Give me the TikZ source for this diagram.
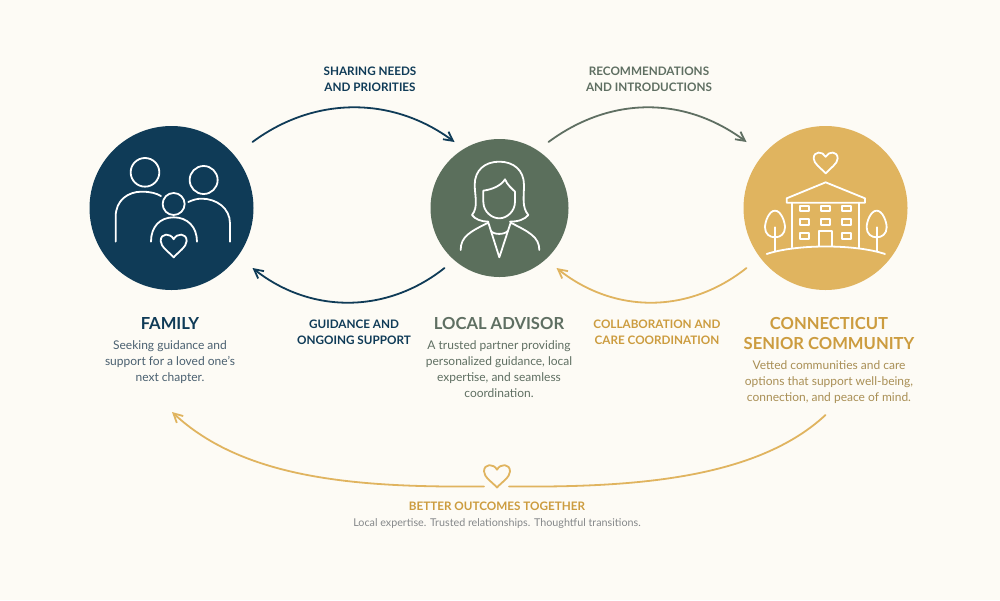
\documentclass[tikz,border=0pt]{standalone}
\usepackage{fontspec}
\setmainfont{Lato}
\usetikzlibrary{arrows.meta,positioning,calc}
\definecolor{bgcream}{HTML}{FDFBF5}
\definecolor{navyblue}{HTML}{0F3B57}
\definecolor{sagegreen}{HTML}{5B6F5C}
\definecolor{goldtone}{HTML}{E0B45F}
\definecolor{goldtext}{HTML}{CC9C3F}
\definecolor{navytext}{HTML}{4A6070}
\definecolor{greentext}{HTML}{5F6F62}
\definecolor{browntext}{HTML}{A98F55}
\definecolor{greytext}{HTML}{85888A}
\tikzset{
  circ/.style={circle, inner sep=0, outer sep=0},
  title/.style={font=\fontsize{16.6}{20}\selectfont\bfseries, align=center, inner sep=0},
  flow/.style={font=\fontsize{11.7}{15.7}\selectfont\bfseries, align=center, inner sep=0},
  desc/.style={font=\fontsize{12}{16}\selectfont, align=center, inner sep=0},
  arc/.style={-{Straight Barb[length=9pt,width=13pt,angle'=55]}, line width=1.8pt, line cap=round},
  icon/.style={draw=white, line width=1.8pt, line cap=round, line join=round},
  pics/heart/.style={
    code={\path[pic actions] (0,-0.55) .. controls (-0.25,-1.1) and (-1,-1.1) .. (-1,-0.4)
      .. controls (-1,0.1) and (-0.35,0.55) .. (0,1)
      .. controls (0.35,0.55) and (1,0.1) .. (1,-0.4)
      .. controls (1,-1.1) and (0.25,-1.1) .. (0,-0.55) -- cycle;}
  },
}
\begin{document}
\begin{tikzpicture}[x=1pt,y=-1pt]
\fill[bgcream] (0,0) rectangle (1000,600);
\useasboundingbox (0,0) rectangle (1000,600);

\node[circ, fill=navyblue, minimum size=164pt] (FAMILY) at (171.5,208) {};
\node[circ, fill=sagegreen, minimum size=138pt] (ADVISOR) at (499.5,208) {};
\node[circ, fill=goldtone, minimum size=164pt] (COMMUNITY) at (825.5,208) {};

% family
\begin{scope}[shift={(70,110)},scale=0.3333]
\draw[icon] (225,187) circle (43);
\draw[icon] (401,210) circle (42);
\draw[icon] (311,282) circle (33);
\draw[icon] (137,395) -- (137,320) .. controls (137,270) and (175,245) .. (215,245) .. controls (240,245) and (260,250) .. (273,258);
\draw[icon] (480,395) -- (480,340) .. controls (480,295) and (440,266) .. (395,266) .. controls (380,266) and (368,270) .. (355,276);
\draw[icon] (243,395) .. controls (243,350) and (270,322) .. (311,322) .. controls (352,322) and (381,350) .. (381,395);
\pic[icon, xscale=13, yscale=11.7] at (311,407) {heart};
\end{scope}

% advisor
\begin{scope}[shift={(420,120)},scale=0.3333]
\draw[icon] (205,305) .. controls (185,305) and (165,298) .. (156,285) .. controls (175,262) and (165,230) .. (164,195) .. controls (164,150) and (195,125) .. (238,125) .. controls (280,125) and (312,150) .. (312,195) .. controls (312,230) and (305,262) .. (325,285) .. controls (315,298) and (295,305) .. (270,305);
\draw[icon] (190,212) .. controls (220,208) and (245,195) .. (255,178) .. controls (262,195) and (275,205) .. (285,215) -- (285,245) .. controls (285,275) and (260,295) .. (238,295) .. controls (215,295) and (190,275) .. (190,245) -- cycle;
\draw[icon] (122,390) .. controls (122,350) and (150,335) .. (205,308) -- (238,412) -- (272,308) .. controls (325,335) and (358,350) .. (358,390);
\draw[icon] (212,332) .. controls (220,345) and (255,345) .. (264,332);
\end{scope}

% community
\begin{scope}[shift={(730,120)},scale=0.3333]
\pic[icon, xscale=12, yscale=10.7] at (287,128) {heart};
\draw[icon] (170,235) -- (287,187) -- (405,235) -- (405,248) -- (170,248) -- cycle;
\draw[icon] (187,248) -- (187,382);
\draw[icon] (387,248) -- (387,382);
\foreach \winx in {224,287,349}
  \foreach \winy in {265,306}
    \draw[icon] (\winx-14,\winy-8) rectangle (\winx+14,\winy+8);
\foreach \winx in {224,349}
  \draw[icon] (\winx-14,348-8) rectangle (\winx+14,348+8);
\draw[icon] (267,378) -- (267,332) -- (307,332) -- (307,378);
\draw[icon] (110,402) .. controls (200,372) and (375,372) .. (465,402);
\foreach \treex in {135,440} {
  \draw[icon] (\treex,272) .. controls (\treex+18,272) and (\treex+30,305) .. (\treex+30,322) .. controls (\treex+30,342) and (\treex+16,352) .. (\treex,352) .. controls (\treex-16,352) and (\treex-30,342) .. (\treex-30,322) .. controls (\treex-30,305) and (\treex-18,272) .. (\treex,272) -- cycle;
  \draw[icon] (\treex,322) -- (\treex,392);
}
\end{scope}

% arrow ends
\coordinate (FAM_TOP) at ($(FAMILY)+(81,-66)$);
\coordinate (FAM_LOW) at ($(FAMILY)+(81,60)$);
\coordinate (ADV_TOPL) at ($(ADVISOR)+(-45,-66)$);
\coordinate (ADV_TOPR) at ($(ADVISOR)+(49,-66)$);
\coordinate (ADV_LOWL) at ($(ADVISOR)+(-55,60)$);
\coordinate (ADV_LOWR) at ($(ADVISOR)+(57,60)$);
\coordinate (COM_TOP) at ($(COMMUNITY)+(-79,-66)$);
\coordinate (COM_LOW) at ($(COMMUNITY)+(-79,60)$);
\coordinate (COM_FOOT) at ($(COMMUNITY)+(0,207)$);
\coordinate (FAM_FOOT) at ($(FAMILY)+(0.5,204)$);

\draw[arc, navyblue] (FAM_TOP) .. controls +(62,-46) and +(-62,-46) .. (ADV_TOPL);
\draw[arc, navyblue] (ADV_LOWL) .. controls +(-58,46) and +(58,46) .. (FAM_LOW);
\draw[arc, greentext] (ADV_TOPR) .. controls +(62,-46) and +(-62,-46) .. (COM_TOP);
\draw[arc, goldtone] (COM_LOW) .. controls +(-58,46) and +(58,46) .. (ADV_LOWR);

\coordinate (HEART) at (497,476);
\pic[draw=goldtone, line width=1.8pt, line join=round, xscale=13, yscale=11.5] at (HEART) {heart};
\coordinate (HEART_L) at ($(HEART)+(-13,10.5)$);
\coordinate (HEART_R) at ($(HEART)+(12,10.5)$);
\draw[goldtone, line width=1.8pt, line cap=round] (COM_FOOT) .. controls +(-70,65) and +(121,1) .. (HEART_R);
\draw[arc, goldtone] (HEART_L) .. controls +(-124,1) and +(73,68) .. (FAM_FOOT);

\node[flow, navyblue] (SHARING) at (370,79) {SHARING NEEDS\\AND PRIORITIES};
\node[flow, greentext] (RECOMMEND) at (649,79) {RECOMMENDATIONS\\AND INTRODUCTIONS};
\node[flow, navyblue] (GUIDANCE) at (354,332.5) {GUIDANCE AND\\ONGOING SUPPORT};
\node[flow, goldtext] (COLLAB) at (657,332.5) {COLLABORATION AND\\CARE COORDINATION};

\node[title, navyblue] (FAMILYT) at (170,323.5) {FAMILY};
\node[below=11pt of FAMILYT, desc, navytext] (FAMILYD) {Seeking guidance and\\support for a loved one’s\\next chapter.};
\node[title, greentext] (ADVISORT) at (499,323.5) {LOCAL ADVISOR};
\node[below=11pt of ADVISORT, desc, greentext] (ADVISORD) {A trusted partner providing\\personalized guidance, local\\expertise, and seamless\\coordination.};
\node[title, goldtext] (COMMUNITYT) at (829,333.5) {CONNECTICUT\\SENIOR COMMUNITY};
\node[below=11pt of COMMUNITYT.south, desc, browntext] (COMMUNITYD) {Vetted communities and care\\options that support well-being,\\connection, and peace of mind.};

\node[flow, goldtext] (BETTER) at (497,506) {BETTER OUTCOMES TOGETHER};
\node[below=8pt of BETTER, desc, greytext, font=\fontsize{10.75}{14}\selectfont] (BETTERD) {Local expertise. Trusted relationships. Thoughtful transitions.};
\end{tikzpicture}
\end{document}
